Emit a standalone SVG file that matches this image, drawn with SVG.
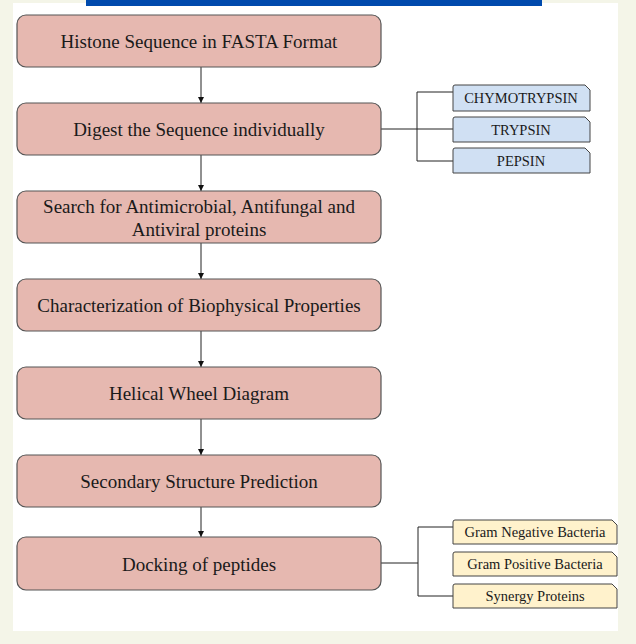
<svg xmlns="http://www.w3.org/2000/svg" width="636" height="644" viewBox="0 0 636 644">
<style>
.main rect{fill:#e6b8b0;stroke:#555;stroke-width:1.2}
.t{font-family:"Liberation Serif","Times New Roman",serif;fill:#1a1a1a;text-anchor:middle}
.mt{font-size:19px}
.st{font-size:14.5px}
.blue path{fill:#d0e0f3;stroke:#444;stroke-width:1}
.yel path{fill:#fff2cc;stroke:#444;stroke-width:1}
#connectors line,#connectors polyline{stroke:#222;stroke-width:1;fill:none}
</style>
<defs>
<marker id="ah" viewBox="0 0 10 10" refX="10" refY="5" markerWidth="6" markerHeight="6" orient="auto" markerUnits="userSpaceOnUse">
<path d="M0,0 L10,5 L0,10 z" fill="#111"/>
</marker>
</defs>
<rect x="0" y="0" width="636" height="644" fill="#f4f5e8"/>
<rect x="13" y="3" width="605" height="628" fill="#ffffff"/>
<rect x="86" y="0" width="456" height="6" fill="#004aad"/>

<g id="connectors">
<line x1="201" y1="67" x2="201" y2="103" marker-end="url(#ah)"/>
<line x1="201" y1="155" x2="201" y2="191" marker-end="url(#ah)"/>
<line x1="201" y1="243" x2="201" y2="279" marker-end="url(#ah)"/>
<line x1="201" y1="331" x2="201" y2="367" marker-end="url(#ah)"/>
<line x1="201" y1="419" x2="201" y2="455" marker-end="url(#ah)"/>
<line x1="201" y1="507" x2="201" y2="537" marker-end="url(#ah)"/>
<line x1="381" y1="129" x2="453" y2="129"/>
<polyline points="453,92 417,92 417,161 453,161"/>
<line x1="381" y1="563" x2="418" y2="563"/>
<polyline points="453,527 418,527 418,596 453,596"/>
</g>

<g id="n1" class="main"><rect x="17" y="15" width="364" height="52" rx="9"/><text class="t mt" x="199" y="48">Histone Sequence in FASTA Format</text></g>
<g id="n2" class="main"><rect x="17" y="103" width="364" height="52" rx="9"/><text class="t mt" x="199" y="136">Digest the Sequence individually</text></g>
<g id="n3" class="main"><rect x="17" y="191" width="364" height="52" rx="9"/><text class="t mt" x="199" y="213">Search for Antimicrobial, Antifungal and</text><text class="t mt" x="199" y="236">Antiviral proteins</text></g>
<g id="n4" class="main"><rect x="17" y="279" width="364" height="52" rx="9"/><text class="t mt" x="199" y="312">Characterization of Biophysical Properties</text></g>
<g id="n5" class="main"><rect x="17" y="367" width="364" height="52" rx="9"/><text class="t mt" x="199" y="400">Helical Wheel Diagram</text></g>
<g id="n6" class="main"><rect x="17" y="455" width="364" height="52" rx="9"/><text class="t mt" x="199" y="488">Secondary Structure Prediction</text></g>
<g id="n7" class="main"><rect x="17" y="537" width="364" height="53" rx="9"/><text class="t mt" x="199" y="571">Docking of peptides</text></g>

<g id="s1" class="blue"><path d="M455,85 H585 L590,90 V111 H453 V87 Q453,85 455,85 Z"/><text class="t st" x="521" y="103">CHYMOTRYPSIN</text></g>
<g id="s2" class="blue"><path d="M455,117 H585 L590,122 V142 H453 V119 Q453,117 455,117 Z"/><text class="t st" x="521" y="134.5">TRYPSIN</text></g>
<g id="s3" class="blue"><path d="M455,148 H585 L590,153 V173 H453 V150 Q453,148 455,148 Z"/><text class="t st" x="521" y="165.5">PEPSIN</text></g>

<g id="y1" class="yel"><path d="M455,520 H612 L617,525 V544 H453 V522 Q453,520 455,520 Z"/><text class="t st" x="535" y="537">Gram Negative Bacteria</text></g>
<g id="y2" class="yel"><path d="M455,552 H612 L617,557 V576 H453 V554 Q453,552 455,552 Z"/><text class="t st" x="535" y="569">Gram Positive Bacteria</text></g>
<g id="y3" class="yel"><path d="M455,584 H612 L617,589 V608 H453 V586 Q453,584 455,584 Z"/><text class="t st" x="535" y="601">Synergy Proteins</text></g>
</svg>
